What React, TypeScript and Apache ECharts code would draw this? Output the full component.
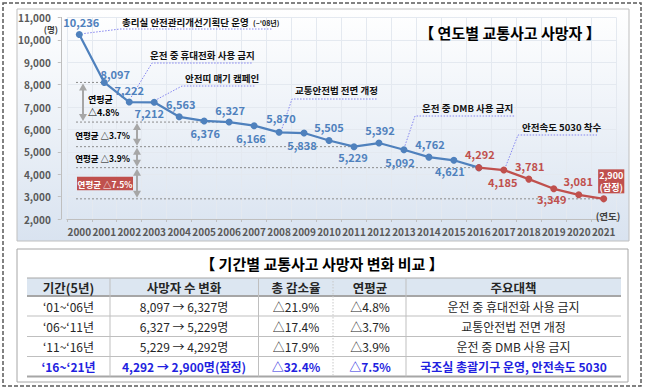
import React, { useEffect, useRef } from "react";
import * as echarts from "echarts";

// ---------- data ----------
const years = ["2000","2001","2002","2003","2004","2005","2006","2007","2008","2009","2010","2011","2012","2013","2014","2015","2016","2017","2018","2019","2020","2021"];
const deaths = [10236, 8097, 7222, 7212, 6563, 6376, 6327, 6166, 5870, 5838, 5505, 5229, 5392, 5092, 4762, 4621, 4292, 4185, 3781, 3349, 3081, 2900];
const splitIndex = 16; // red segment starts here
const provisionalIndex = 21;
const provisionalNote = "(잠정)";
const yMin = 2000;
const yMax = 11000;
const yStep = 1000;

const chartTitle = "【 연도별 교통사고 사망자 】";
const tableTitle = "【 기간별 교통사고 사망자 변화 비교 】";
const yUnit = "(명)";
const xUnit = "(연도)";

const milestoneIdx = [0, 2, 3, 8, 13, 17];
const milestoneText = [
  "총리실 안전관리개선기획단 운영",
  "운전 중 휴대전화 사용 금지",
  "안전띠 매기 캠페인",
  "교통안전법 전면 개정",
  "운전 중 DMB 사용 금지",
  "안전속도 5030 착수",
];
const milestoneNote = ["(~'08년)", "", "", "", "", ""];

const rangePairs = [[1, 6], [6, 11], [11, 16], [16, 21]];
const rangeLabel = "연평균";
const rangeRates = ["△4.8%", "△3.7%", "△3.9%", "△7.5%"];

const tableHeaders = ["기간(5년)", "사망자 수 변화", "총 감소율", "연평균", "주요대책"];
const tablePeriods = ["‘01~‘06년", "‘06~‘11년", "‘11~‘16년", "‘16~‘21년"];
const tableChanges = ["8,097 → 6,327명", "6,327 → 5,229명", "5,229 → 4,292명", "4,292 → 2,900명(잠정)"];
const tableTotal = ["△21.9%", "△17.4%", "△17.9%", "△32.4%"];
const tableAvg = ["△4.8%", "△3.7%", "△3.9%", "△7.5%"];
const tableMeasures = ["운전 중 휴대전화 사용 금지", "교통안전법 전면 개정", "운전 중 DMB 사용 금지", "국조실 총괄기구 운영, 안전속도 5030"];

// ---------- layout / style ----------
const FONT = "'Noto Sans CJK KR', 'Noto Sans', sans-serif";
const BLUE = "#4f81bd";
const RED = "#c0504d";
const labelOffsets: number[][] = [
  [2, -12.5], [11, -8], [0, -12.5], [-5, 11], [1.5, -13], [1, 12], [1, -12.5], [-3, 12.5],
  [2, -14], [-2, 12], [0, -13], [-1, 10], [1, -13], [-4, 12], [1, -13], [-4, 10.5],
  [1, -13.5], [-1, 12], [1, -13], [-2, 10.5], [-0.5, -13.5], [7.5, -17.5],
];
// leader: start offset from point, elbow (absolute), end x, text left x, text y
const milestoneLayout = [
  { s: [5, -1], elbow: [120, 29], endX: 272, tx: 122, ty: 22 },
  { s: [2, -5], elbow: [152, 63], endX: 253, tx: 150, ty: 55 },
  { s: [3, -3], elbow: [182, 86], endX: 255, tx: 185, ty: 78 },
  { s: [3, -4], elbow: [292, 99], endX: 378, tx: 295, ty: 90 },
  { s: [1, -4], elbow: [415, 116], endX: 515, tx: 422, ty: 108 },
  { s: [2, -4], elbow: [518, 135], endX: 597, tx: 522, ty: 127 },
];

const fmt = (v: number) => v.toLocaleString("en-US");

function T(x: number, y: number, text: string, o: any = {}) {
  return {
    type: "text",
    x,
    y,
    z: o.z ?? 20,
    style: {
      text,
      fill: o.fill ?? "#262626",
      fontSize: o.size ?? 12,
      fontWeight: o.weight ?? "normal",
      fontFamily: FONT,
      align: o.align ?? "center",
      verticalAlign: "middle",
    },
  };
}
function L(x1: number, y1: number, x2: number, y2: number, stroke: string, lw = 1, dash?: number[], z = 15) {
  return {
    type: "line",
    z,
    shape: { x1, y1, x2, y2 },
    style: { stroke, lineWidth: lw, lineDash: dash },
  };
}

export default function App() {
  const ref = useRef<HTMLDivElement>(null);

  useEffect(() => {
    if (!ref.current) return;
    const chart = echarts.init(ref.current, undefined, { renderer: "svg" });

    const blueData = deaths.map((v, i) =>
      i <= splitIndex
        ? { value: v, label: { show: i < splitIndex, offset: labelOffsets[i] } }
        : null
    );
    const redData = deaths.map((v, i) =>
      i >= splitIndex
        ? i === provisionalIndex
          ? {
              value: v,
              label: {
                show: true,
                offset: labelOffsets[i],
                formatter: (p: any) => `${fmt(p.value)}\n${provisionalNote}`,
                color: "#fff",
                backgroundColor: RED,
                padding: [0, 1, 0, 1],
                fontSize: 9,
                lineHeight: 12,
              },
            }
          : { value: v, label: { show: true, offset: labelOffsets[i] } }
        : null
    );

    const labelBase = {
      show: true,
      position: "inside",
      fontSize: 11,
      fontWeight: "bold",
      fontFamily: FONT,
      formatter: (p: any) => fmt(p.value),
    };

    chart.setOption({
      animation: false,
      backgroundColor: "#ffffff",
      grid: { left: 66.8, top: 17.4, width: 549.4, height: 201.6 },
      xAxis: {
        type: "category",
        data: years,
        boundaryGap: true,
        axisLine: { lineStyle: { color: "#bfbfbf" } },
        axisTick: { show: true, length: 3, lineStyle: { color: "#bfbfbf" } },
        axisLabel: { color: "#595959", fontSize: 10, fontWeight: "bold", margin: 7, fontFamily: FONT, interval: 0 },
        splitLine: { show: true, lineStyle: { color: "#e4e9f0" } },
      },
      yAxis: {
        type: "value",
        min: yMin,
        max: yMax,
        interval: yStep,
        offset: 6,
        axisLine: { show: true, lineStyle: { color: "#bfbfbf" } },
        axisTick: { show: true, length: 3, lineStyle: { color: "#bfbfbf" } },
        axisLabel: { color: "#595959", fontSize: 10, fontWeight: "bold", margin: 10, fontFamily: FONT, formatter: (v: number) => fmt(v) },
        splitLine: { show: true, lineStyle: { color: "#e4e9f0" } },
      },
      series: [
        {
          type: "line",
          data: blueData,
          z: 5,
          symbol: "circle",
          symbolSize: 7,
          itemStyle: { color: BLUE },
          lineStyle: { color: BLUE, width: 2.25 },
          label: { ...labelBase, color: BLUE },
        },
        {
          type: "line",
          data: redData,
          z: 6,
          symbol: "circle",
          symbolSize: 7,
          itemStyle: { color: RED },
          lineStyle: { color: RED, width: 2.25 },
          label: { ...labelBase, color: RED },
        },
      ],
    });

    const px = (i: number) => chart.convertToPixel({ xAxisIndex: 0, yAxisIndex: 0 }, [i, deaths[i]]) as number[];

    const els: any[] = [];
    // frames
    els.push({
      type: "rect", z: -30,
      shape: { x: 3, y: 3, width: 638, height: 383 },
      style: { fill: "#ffffff", stroke: "#5a5a5a", lineWidth: 1.5, lineDash: [4, 2] },
    });
    els.push({
      type: "rect", z: -20,
      shape: { x: 17, y: 9, width: 612, height: 232 },
      style: {
        fill: new echarts.graphic.LinearGradient(0, 0, 0, 1, [
          { offset: 0, color: "#ffffff" },
          { offset: 1, color: "#d9e3f0" },
        ]),
        stroke: "#bfbfbf", lineWidth: 1,
      },
    });
    els.push({
      type: "rect", z: -20,
      shape: { x: 17, y: 249, width: 611, height: 133 },
      style: { fill: "#ffffff", stroke: "#a6a6a6", lineWidth: 1 },
    });

    // chart title & units
    els.push(T(510, 32, chartTitle, { size: 15, weight: "bold", fill: "#000" }));
    els.push(T(58, 28.6, yUnit, { size: 8.5, weight: "bold", fill: "#404040", align: "right" }));
    els.push(T(608, 216, xUnit, { size: 9.5, weight: "bold", fill: "#404040" }));

    // milestones
    milestoneIdx.forEach((idx, k) => {
      const p = px(idx);
      const m = milestoneLayout[k];
      els.push({
        type: "polyline", z: 3,
        shape: { points: [[p[0] + m.s[0], p[1] + m.s[1]], m.elbow, [m.endX, m.elbow[1]]] },
        style: { stroke: "#8585f0", lineWidth: 1, lineDash: [1.5, 1.5], fill: null },
      });
      els.push(T(m.tx, m.ty, milestoneText[k], { size: 9.5, weight: "bold", fill: "#111", align: "left" }));
      if (milestoneNote[k]) {
        els.push(T(m.tx + 131, m.ty + 0.5, milestoneNote[k], { size: 7, weight: "bold", fill: "#111", align: "left" }));
      }
    });

    // reference dotted lines
    const refIdx = [1, 6, 11, 16, 21];
    refIdx.forEach((i) => {
      const p = px(i);
      els.push(L(76, p[1], p[0], p[1], "#8c8c8c", 1, [2, 2], 3));
    });

    // arrows & range labels
    const arrowX = [83, 137, 137, 137];
    rangePairs.forEach(([a, b], k) => {
      const ya = px(a)[1];
      const yb = px(b)[1];
      const x = arrowX[k];
      const c = "#a6a6a6";
      els.push(L(x, ya + 6, x, yb - 6, c, 2, undefined, 4));
      els.push({ type: "polygon", z: 4, shape: { points: [[x, ya + 1], [x - 4, ya + 8], [x + 4, ya + 8]] }, style: { fill: c } });
      els.push({ type: "polygon", z: 4, shape: { points: [[x, yb - 1], [x - 4, yb - 8], [x + 4, yb - 8]] }, style: { fill: c } });
      const mid = (ya + yb) / 2;
      if (k === 0) {
        els.push(T(x + 5, mid - 3, rangeLabel, { size: 9, weight: "bold", fill: "#000", align: "left" }));
        els.push(T(x + 5, mid + 10, rangeRates[k], { size: 9, weight: "bold", fill: "#000", align: "left" }));
      } else if (k === rangePairs.length - 1) {
        els.push({ type: "rect", z: 4, shape: { x: 77, y: mid - 6.5, width: 56, height: 13.5 }, style: { fill: RED } });
        els.push(T(105, mid + 0.3, `${rangeLabel} ${rangeRates[k]}`, { size: 8.5, weight: "bold", fill: "#fff" }));
      } else {
        els.push(T(x - 7, mid + 1, `${rangeLabel} ${rangeRates[k]}`, { size: 8.5, weight: "bold", fill: "#000", align: "right" }));
      }
    });

    // ---------- table ----------
    els.push(T(322, 263, tableTitle, { size: 15, weight: "bold", fill: "#000" }));
    const tl = 27, tr = 621;
    const hTop = 278, hBot = 296;
    const rowB = [316, 336.5, 356.5, 376.5];
    els.push({ type: "rect", z: 1, shape: { x: tl, y: hTop, width: tr - tl, height: hBot - hTop }, style: { fill: "#dce6f1" } });
    els.push(L(tl, hTop, tr, hTop, "#a6a6a6", 1, undefined, 2));
    els.push(L(tl, hBot, tr, hBot, "#a6a6a6", 2, undefined, 2));
    rowB.forEach((y, i) => {
      els.push(L(tl, y, tr, y, i === rowB.length - 1 ? "#a6a6a6" : "#bfbfbf", i === rowB.length - 1 ? 2 : 1, undefined, 2));
    });
    const colLines = [110, 258.5, 333, 406];
    colLines.forEach((x) => {
      els.push(L(x, hTop, x, rowB[rowB.length - 1], x === 333 ? "#c8c8c8" : "#bfbfbf", 1, x === 333 ? [1.5, 1.5] : undefined, 2));
    });
    const colC = [68.5, 184, 296, 370, 513.5];
    tableHeaders.forEach((h, i) => els.push(T(colC[i], (hTop + hBot) / 2, h, { size: 12.5, weight: "bold", fill: "#262626" })));
    const rowsTop = [hBot, ...rowB.slice(0, -1)];
    tablePeriods.forEach((_, r) => {
      const y = (rowsTop[r] + rowB[r]) / 2;
      const last = r === tablePeriods.length - 1;
      const o = { size: 12, weight: last ? "bold" : "normal", fill: last ? "#1f1fe0" : "#262626" };
      const vals = [tablePeriods[r], tableChanges[r], tableTotal[r], tableAvg[r], tableMeasures[r]];
      vals.forEach((v, c) => els.push(T(colC[c], y, v, o)));
    });

    chart.setOption({ graphic: { elements: els } });

    return () => chart.dispose();
  }, []);

  return (
    <div
      ref={ref}
      style={{ position: "fixed", left: 0, top: 0, width: 646, height: 390 }}
    />
  );
}
